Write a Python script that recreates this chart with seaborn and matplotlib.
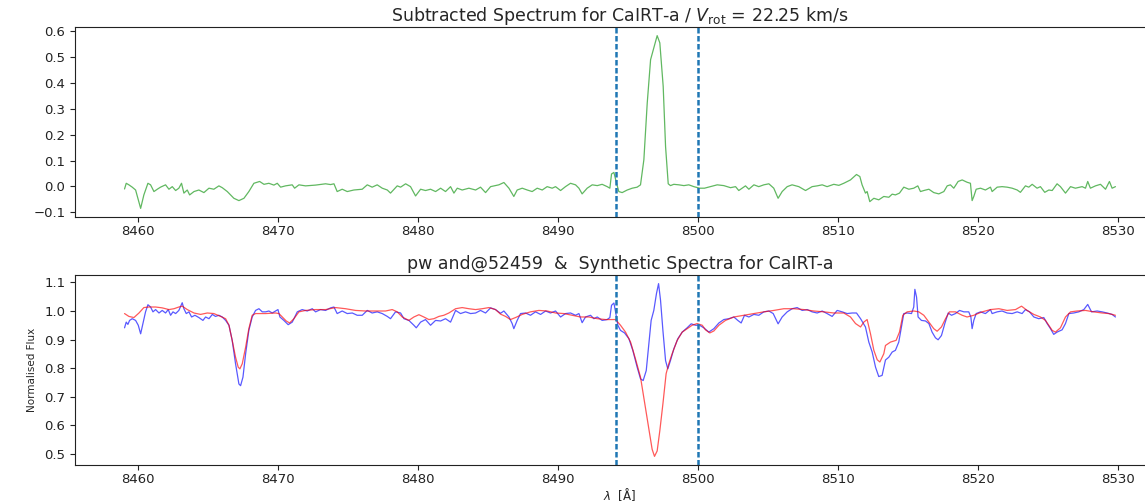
import matplotlib
matplotlib.use("Agg")
import matplotlib.pyplot as plt
import numpy as np
import seaborn as sns

# subtracted spectrum (observed - synthetic)
sub_wave = [
    8459.02, 8459.14, 8459.33, 8459.57, 8459.81, 8460.00, 8460.17, 8460.40, 8460.69, 8460.88,
    8461.12, 8461.36, 8461.59, 8461.95, 8462.19, 8462.43, 8462.67, 8462.90, 8463.09, 8463.26,
    8463.50, 8463.67, 8463.98, 8464.33, 8464.69, 8465.05, 8465.40, 8465.76, 8466.00, 8466.36,
    8466.83, 8467.19, 8467.55, 8467.90, 8468.26, 8468.67, 8468.98, 8469.33, 8469.69, 8469.93,
    8470.17, 8470.52, 8471.00, 8471.17, 8471.48, 8471.95, 8472.67, 8473.38, 8473.74, 8473.98,
    8474.21, 8474.57, 8474.93, 8475.40, 8476.00, 8476.36, 8476.71, 8477.07, 8477.43, 8477.79,
    8478.02, 8478.50, 8478.74, 8479.10, 8479.45, 8479.81, 8480.17, 8480.52, 8480.88, 8481.24,
    8481.60, 8481.95, 8482.31, 8482.55, 8482.79, 8483.14, 8483.62, 8484.10, 8484.45, 8484.81,
    8485.17, 8485.76, 8486.12, 8486.48, 8486.83, 8487.07, 8487.43, 8487.79, 8488.14, 8488.50,
    8488.86, 8489.21, 8489.57, 8489.81, 8490.17, 8490.52, 8490.88, 8491.24, 8491.48, 8491.71,
    8492.07, 8492.43, 8492.79, 8493.14, 8493.50, 8493.69, 8493.81, 8493.98, 8494.17, 8494.33,
    8494.57, 8494.93, 8495.29, 8495.64, 8495.88, 8496.12, 8496.36, 8496.60, 8496.83, 8497.07,
    8497.26, 8497.50, 8497.67, 8497.86, 8498.02, 8498.26, 8498.62, 8498.98, 8499.33, 8499.69,
    8500.10, 8500.45, 8500.88, 8501.36, 8501.83, 8502.31, 8502.67, 8502.90, 8503.14, 8503.38,
    8503.62, 8503.98, 8504.33, 8504.69, 8505.05, 8505.40, 8505.71, 8506.00, 8506.36, 8506.71,
    8507.19, 8507.67, 8508.14, 8508.50, 8508.86, 8509.21, 8509.69, 8510.05, 8510.40, 8510.88,
    8511.31, 8511.55, 8511.71, 8511.95, 8512.07, 8512.26, 8512.55, 8512.90, 8513.26, 8513.62,
    8513.86, 8514.09, 8514.38, 8514.69, 8515.05, 8515.40, 8515.69, 8515.88, 8516.12, 8516.48,
    8516.83, 8517.19, 8517.55, 8517.79, 8518.02, 8518.26, 8518.57, 8518.86, 8519.21, 8519.45,
    8519.57, 8519.69, 8519.86, 8520.17, 8520.52, 8520.88, 8521.00, 8521.36, 8521.71, 8522.07,
    8522.43, 8522.79, 8523.02, 8523.38, 8523.62, 8523.86, 8524.21, 8524.45, 8524.76, 8525.05,
    8525.29, 8525.64, 8525.88, 8526.24, 8526.60, 8526.95, 8527.43, 8527.67, 8527.83, 8528.02,
    8528.38, 8528.74, 8529.10, 8529.38, 8529.57, 8529.81,
]
sub_flux = [
    -0.010, 0.012, 0.006, -0.003, -0.014, -0.052, -0.085, -0.033, 0.012, 0.006,
    -0.020, -0.011, -0.003, 0.006, -0.011, -0.001, -0.016, -0.007, 0.012, -0.026,
    -0.014, -0.033, -0.020, -0.014, -0.024, -0.007, -0.011, 0.002, -0.005, -0.020,
    -0.046, -0.055, -0.046, -0.020, 0.012, 0.019, 0.008, 0.012, 0.005, 0.012,
    -0.003, 0.002, 0.006, -0.007, 0.006, 0.002, 0.005, 0.010, 0.007, 0.010,
    -0.020, -0.011, -0.020, -0.014, -0.011, 0.006, -0.003, 0.006, -0.007, -0.014,
    -0.026, 0.002, -0.003, 0.010, -0.001, -0.037, -0.011, -0.016, -0.011, -0.020,
    -0.007, -0.020, -0.001, -0.026, -0.007, -0.014, -0.007, -0.014, -0.003, -0.024,
    -0.001, 0.006, 0.015, -0.007, -0.039, -0.014, -0.007, -0.014, -0.020, -0.007,
    -0.014, -0.001, -0.007, -0.001, -0.016, -0.001, 0.012, 0.006, -0.007, -0.029,
    -0.007, 0.006, 0.003, 0.008, -0.001, -0.007, 0.048, 0.054, 0.012, -0.020,
    -0.024, -0.014, -0.007, -0.003, 0.006, 0.103, 0.322, 0.490, 0.536, 0.583,
    0.555, 0.387, 0.154, 0.010, 0.003, 0.008, 0.006, 0.003, 0.006, -0.001,
    -0.007, -0.007, -0.001, 0.006, 0.003, -0.005, -0.001, -0.016, -0.007, 0.002,
    -0.011, 0.006, -0.001, 0.006, 0.010, -0.007, -0.046, -0.020, -0.001, 0.006,
    -0.001, -0.016, -0.001, 0.002, 0.006, -0.001, 0.008, 0.004, 0.012, 0.025,
    0.046, 0.038, 0.006, -0.026, -0.020, -0.059, -0.046, -0.052, -0.039, -0.042,
    -0.030, -0.033, -0.026, -0.003, -0.011, -0.007, 0.002, -0.020, -0.016, -0.011,
    -0.024, -0.029, -0.020, 0.002, 0.006, -0.007, 0.019, 0.025, 0.016, 0.012,
    -0.055, -0.039, -0.011, -0.007, -0.014, -0.003, -0.020, -0.003, -0.001, -0.003,
    -0.007, -0.014, -0.023, 0.002, -0.003, 0.008, -0.007, -0.001, -0.023, -0.014,
    -0.016, 0.010, -0.001, -0.026, -0.001, -0.007, -0.001, -0.007, 0.019, -0.007,
    0.002, 0.008, -0.011, 0.019, -0.007, -0.001,
]

# observed spectrum pw and@52459
obs_wave = [
    8459.02, 8459.14, 8459.26, 8459.38, 8459.57, 8459.81, 8460.00, 8460.17, 8460.33, 8460.52,
    8460.69, 8460.88, 8461.05, 8461.24, 8461.48, 8461.71, 8461.95, 8462.14, 8462.31, 8462.48,
    8462.67, 8462.90, 8463.14, 8463.26, 8463.43, 8463.62, 8463.81, 8464.05, 8464.33, 8464.62,
    8464.81, 8465.05, 8465.29, 8465.52, 8465.76, 8466.00, 8466.24, 8466.48, 8466.71, 8466.95,
    8467.19, 8467.31, 8467.48, 8467.67, 8467.90, 8468.14, 8468.38, 8468.62, 8468.86, 8469.10,
    8469.33, 8469.57, 8469.81, 8469.98, 8470.12, 8470.40, 8470.71, 8471.00, 8471.36, 8471.71,
    8472.07, 8472.43, 8472.67, 8473.02, 8473.38, 8473.74, 8473.98, 8474.21, 8474.57, 8474.93,
    8475.29, 8475.64, 8476.00, 8476.36, 8476.71, 8477.07, 8477.43, 8477.79, 8478.02, 8478.38,
    8478.74, 8478.98, 8479.33, 8479.69, 8479.86, 8480.17, 8480.52, 8480.88, 8481.24, 8481.60,
    8481.95, 8482.31, 8482.67, 8483.02, 8483.38, 8483.74, 8484.10, 8484.45, 8484.81, 8485.17,
    8485.52, 8485.88, 8486.12, 8486.48, 8486.71, 8486.83, 8487.07, 8487.31, 8487.67, 8488.02,
    8488.38, 8488.74, 8489.10, 8489.45, 8489.81, 8490.17, 8490.52, 8490.88, 8491.24, 8491.48,
    8491.71, 8491.95, 8492.31, 8492.55, 8492.79, 8493.14, 8493.50, 8493.69, 8493.81, 8493.98,
    8494.12, 8494.26, 8494.45, 8494.74, 8495.05, 8495.33, 8495.64, 8495.88, 8496.07, 8496.29,
    8496.48, 8496.64, 8496.83, 8497.02, 8497.17, 8497.31, 8497.48, 8497.67, 8497.83, 8498.02,
    8498.26, 8498.55, 8498.86, 8499.21, 8499.50, 8499.81, 8500.10, 8500.40, 8500.76, 8501.12,
    8501.48, 8501.83, 8502.19, 8502.55, 8502.83, 8503.07, 8503.31, 8503.62, 8503.98, 8504.33,
    8504.69, 8505.05, 8505.36, 8505.71, 8506.00, 8506.36, 8506.71, 8507.07, 8507.43, 8507.79,
    8508.14, 8508.50, 8508.86, 8509.21, 8509.57, 8509.93, 8510.29, 8510.64, 8511.00, 8511.31,
    8511.60, 8511.95, 8512.19, 8512.43, 8512.67, 8512.90, 8513.14, 8513.38, 8513.62, 8513.86,
    8514.09, 8514.33, 8514.52, 8514.69, 8514.93, 8515.24, 8515.40, 8515.48, 8515.60, 8515.71,
    8515.95, 8516.24, 8516.48, 8516.71, 8516.95, 8517.14, 8517.38, 8517.62, 8517.86, 8518.10,
    8518.38, 8518.67, 8518.98, 8519.33, 8519.48, 8519.57, 8519.69, 8519.86, 8520.17, 8520.52,
    8520.88, 8521.00, 8521.36, 8521.71, 8522.07, 8522.43, 8522.79, 8523.14, 8523.38, 8523.67,
    8523.98, 8524.33, 8524.69, 8524.93, 8525.17, 8525.40, 8525.64, 8526.00, 8526.24, 8526.48,
    8526.83, 8527.19, 8527.55, 8527.83, 8528.10, 8528.50, 8528.86, 8529.21, 8529.57, 8529.81,
]
obs_flux = [
    0.941, 0.961, 0.953, 0.967, 0.973, 0.967, 0.950, 0.920, 0.956, 0.997,
    1.022, 1.014, 0.997, 1.005, 0.993, 1.002, 0.993, 1.005, 0.985, 0.997,
    0.991, 1.002, 1.029, 1.008, 0.991, 0.997, 0.979, 0.985, 0.977, 0.967,
    0.979, 0.973, 0.988, 0.981, 0.985, 0.979, 0.967, 0.950, 0.897, 0.815,
    0.744, 0.738, 0.768, 0.850, 0.932, 0.979, 1.002, 1.008, 0.997, 0.997,
    1.000, 0.993, 1.000, 1.005, 0.979, 0.967, 0.952, 0.961, 0.997, 1.005,
    1.000, 1.008, 0.997, 1.005, 1.002, 1.011, 1.014, 0.991, 1.000, 0.991,
    0.993, 0.985, 0.985, 1.002, 0.993, 0.997, 0.991, 0.981, 0.973, 0.997,
    0.993, 0.973, 0.967, 0.950, 0.941, 0.961, 0.970, 0.950, 0.967, 0.965,
    0.973, 0.961, 1.002, 0.991, 0.997, 0.991, 0.993, 1.002, 0.993, 1.011,
    1.005, 0.992, 1.000, 0.979, 0.956, 0.938, 0.967, 0.991, 0.993, 0.985,
    0.997, 0.988, 1.000, 0.993, 1.000, 0.979, 0.991, 0.993, 0.985, 0.991,
    0.959, 0.979, 0.985, 0.973, 0.979, 0.967, 0.970, 0.977, 1.020, 1.028,
    0.991, 0.950, 0.932, 0.923, 0.903, 0.862, 0.803, 0.762, 0.756, 0.791,
    0.885, 0.967, 1.002, 1.061, 1.096, 1.038, 0.932, 0.826, 0.797, 0.826,
    0.867, 0.903, 0.926, 0.941, 0.955, 0.950, 0.950, 0.941, 0.926, 0.938,
    0.958, 0.970, 0.973, 0.979, 0.967, 0.958, 0.985, 0.979, 0.988, 0.985,
    0.997, 1.000, 0.991, 0.955, 0.979, 0.997, 1.008, 1.012, 1.002, 1.005,
    0.997, 0.993, 1.000, 0.991, 0.981, 1.002, 0.997, 0.991, 0.993, 0.993,
    0.973, 0.944, 0.891, 0.856, 0.803, 0.770, 0.774, 0.828, 0.838, 0.856,
    0.862, 0.891, 0.944, 0.991, 0.993, 0.991, 1.014, 1.076, 1.049, 0.979,
    0.967, 0.965, 0.956, 0.926, 0.906, 0.899, 0.914, 0.956, 0.993, 0.985,
    0.991, 1.002, 0.997, 0.997, 0.979, 0.938, 0.967, 0.991, 0.997, 0.991,
    1.005, 0.991, 0.997, 1.000, 0.993, 0.991, 0.997, 0.991, 1.005, 0.997,
    0.979, 0.973, 0.977, 0.956, 0.938, 0.918, 0.926, 0.934, 0.956, 0.991,
    0.993, 0.997, 1.005, 1.023, 0.997, 1.000, 0.997, 0.993, 0.988, 0.979,
]

# synthetic spectrum
syn_wave = [
    8459.02, 8459.33, 8459.69, 8460.05, 8460.40, 8460.76, 8461.24, 8461.71, 8462.19, 8462.55,
    8462.90, 8463.14, 8463.50, 8463.98, 8464.45, 8464.93, 8465.40, 8465.88, 8466.24, 8466.48,
    8466.71, 8466.95, 8467.14, 8467.26, 8467.43, 8467.67, 8467.90, 8468.14, 8468.38, 8469.10,
    8469.81, 8470.05, 8470.29, 8470.57, 8470.81, 8471.12, 8471.48, 8471.95, 8472.67, 8473.38,
    8474.10, 8474.81, 8475.52, 8476.24, 8476.95, 8477.67, 8478.14, 8478.50, 8478.86, 8479.33,
    8479.69, 8480.05, 8480.40, 8480.76, 8481.12, 8481.48, 8481.83, 8482.19, 8482.67, 8483.14,
    8483.62, 8484.10, 8484.57, 8485.05, 8485.52, 8485.88, 8486.24, 8486.59, 8486.95, 8487.43,
    8488.02, 8488.62, 8489.21, 8489.81, 8490.40, 8491.00, 8491.59, 8492.19, 8492.79, 8493.38,
    8494.10, 8494.45, 8494.81, 8495.17, 8495.52, 8495.88, 8496.17, 8496.48, 8496.71, 8496.88,
    8497.07, 8497.26, 8497.48, 8497.71, 8497.90, 8498.14, 8498.50, 8498.86, 8499.21, 8499.57,
    8499.93, 8500.29, 8500.52, 8500.83, 8501.12, 8501.48, 8501.95, 8502.55, 8503.26, 8503.98,
    8504.69, 8505.40, 8506.12, 8506.83, 8507.55, 8508.26, 8508.98, 8509.69, 8510.40, 8510.88,
    8511.24, 8511.60, 8511.83, 8512.07, 8512.31, 8512.55, 8512.79, 8512.98, 8513.26, 8513.38,
    8513.74, 8514.14, 8514.38, 8514.62, 8514.93, 8515.40, 8515.76, 8516.12, 8516.48, 8516.83,
    8517.07, 8517.38, 8517.67, 8517.95, 8518.38, 8518.86, 8519.21, 8519.69, 8520.29, 8520.88,
    8521.48, 8522.07, 8522.67, 8523.10, 8523.50, 8523.98, 8524.45, 8524.81, 8525.29, 8525.52,
    8525.88, 8526.24, 8526.60, 8527.07, 8527.67, 8528.26, 8528.86, 8529.33, 8529.81,
]
syn_flux = [
    0.991, 0.981, 0.977, 0.993, 1.012, 1.014, 1.014, 1.011, 1.005, 1.008,
    1.014, 1.017, 1.005, 0.993, 0.988, 0.993, 0.991, 0.981, 0.973, 0.950,
    0.897, 0.838, 0.803, 0.797, 0.815, 0.873, 0.938, 0.985, 0.991, 0.991,
    0.993, 0.991, 0.979, 0.965, 0.958, 0.973, 0.997, 1.002, 1.005, 1.005,
    1.012, 1.008, 1.002, 1.000, 1.000, 1.000, 1.005, 0.997, 0.979, 0.967,
    0.979, 0.987, 0.979, 0.970, 0.973, 0.981, 0.985, 0.993, 1.008, 1.012,
    1.008, 1.005, 1.008, 1.012, 1.005, 0.989, 0.981, 0.970, 0.977, 0.988,
    0.997, 1.002, 1.000, 0.993, 0.991, 0.985, 0.979, 0.979, 0.973, 0.970,
    0.970, 0.950, 0.926, 0.891, 0.832, 0.768, 0.680, 0.586, 0.515, 0.490,
    0.509, 0.580, 0.674, 0.780, 0.815, 0.850, 0.897, 0.926, 0.938, 0.950,
    0.956, 0.950, 0.934, 0.923, 0.930, 0.950, 0.967, 0.979, 0.985, 0.991,
    0.997, 1.002, 1.008, 1.008, 1.005, 1.000, 0.997, 0.993, 0.993, 0.979,
    0.956, 0.944, 0.961, 0.970, 0.920, 0.862, 0.829, 0.821, 0.850, 0.879,
    0.891, 0.897, 0.926, 0.985, 0.997, 1.000, 0.997, 0.985, 0.961, 0.938,
    0.929, 0.944, 0.973, 0.997, 0.997, 0.985, 0.979, 0.985, 0.997, 1.005,
    1.008, 1.002, 1.005, 1.017, 1.002, 0.988, 0.979, 0.967, 0.932, 0.926,
    0.941, 0.979, 0.997, 1.000, 1.002, 0.997, 0.993, 0.991, 0.985,
]

line_limits = [8494.1, 8500.0]

sns.set_style("ticks")
plt.rcParams["font.family"] = ["DejaVu Sans"]

fig = plt.figure(figsize=(11.45, 5.03), dpi=100)
W, H = 1145, 503
ax1 = fig.add_axes([75 / W, 1 - 217 / H, 1090 / W, 190 / H])
ax2 = fig.add_axes([75 / W, 1 - 465 / H, 1090 / W, 190 / H])

sns.lineplot(x=np.array(sub_wave), y=np.array(sub_flux), ax=ax1, color="tab:green",
             linewidth=0.9, alpha=0.75, estimator=None, sort=False)
for w in line_limits:
    ax1.axvline(w, color="tab:blue", linestyle="--", linewidth=1.8, dashes=(2.2, 1.0))
ax1.set_title(r"Subtracted Spectrum for CaIRT-a / $V_{\rm rot}$ = 22.25 km/s", fontsize=12.5, pad=4)

sns.lineplot(x=np.array(obs_wave), y=np.array(obs_flux), ax=ax2, color="blue",
             linewidth=0.9, alpha=0.65, estimator=None, sort=False)
sns.lineplot(x=np.array(syn_wave), y=np.array(syn_flux), ax=ax2, color="red",
             linewidth=0.9, alpha=0.65, estimator=None, sort=False)
for w in line_limits:
    ax2.axvline(w, color="tab:blue", linestyle="--", linewidth=1.8, dashes=(2.2, 1.0))
ax2.set_title("pw and@52459  &  Synthetic Spectra for CaIRT-a", fontsize=12.5, pad=4)
ax2.set_xlabel(r"$\lambda$  [Å]", fontsize=8.5, labelpad=0)
ax2.set_ylabel("Normalised Flux", fontsize=7.5, labelpad=5)

for ax in (ax1, ax2):
    ax.tick_params(labelsize=9.5, colors="#222222", length=3.5, width=0.8)
    ax.tick_params(axis="x", pad=2)
    ax.set_xticks([8460, 8470, 8480, 8490, 8500, 8510, 8520, 8530])
    for s in ax.spines.values():
        s.set_linewidth(0.8)
        s.set_color("#222222")

ax1.set_yticks([-0.1, 0.0, 0.1, 0.2, 0.3, 0.4, 0.5, 0.6])
ax2.set_yticks([0.5, 0.6, 0.7, 0.8, 0.9, 1.0, 1.1])

fig.savefig("out.png", dpi=100)
